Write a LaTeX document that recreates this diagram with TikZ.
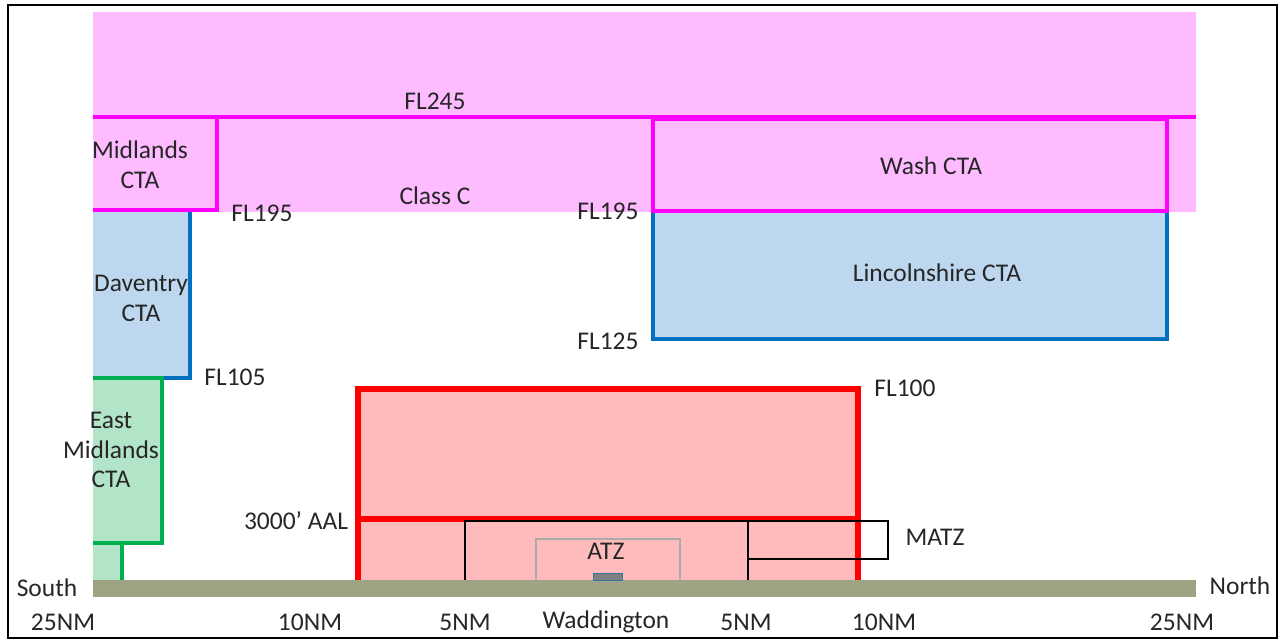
\documentclass[tikz,border=0pt]{standalone}
\usepackage{fontspec}
\setmainfont{Carlito}
\usepackage{tikz}
\usetikzlibrary{positioning}

\definecolor{ctapink}{RGB}{255,187,255}
\definecolor{ctamag}{RGB}{255,0,255}
\definecolor{ctablue}{RGB}{0,112,192}
\definecolor{ctablfill}{RGB}{189,215,238}
\definecolor{ctagreen}{RGB}{0,176,80}
\definecolor{ctagrfill}{RGB}{178,228,200}
\definecolor{matzred}{RGB}{255,0,0}
\definecolor{matzfill}{RGB}{255,187,187}
\definecolor{ground}{RGB}{157,163,131}
\definecolor{atzgrey}{RGB}{170,170,170}

\tikzset{
    lbl/.style={font=\fontsize{14.5}{17}\selectfont, text=black!85, inner sep=0pt, align=center},
    magline/.style={ctamag, line width=2.3pt},
    blueline/.style={ctablue, line width=2.3pt},
    greenline/.style={ctagreen, line width=2.3pt},
    redline/.style={matzred, line width=3.2pt},
}

\begin{document}
\begin{tikzpicture}[x=0.02cm, y=-0.02cm]
    \useasboundingbox (0,0) rectangle (1282,641);
    % frame
    \draw[black, line width=1.2pt] (8,5) rectangle (1277,638);

    % class C (pink) block
    \fill[ctapink] (93,12) rectangle (1196,212);

    % Lincolnshire CTA
    \fill[ctablfill] (653,211) rectangle (1167,339);
    \draw[blueline] (653,211) rectangle (1167,339);

    % Daventry CTA
    \fill[ctablfill] (93,211) rectangle (190,378);
    \draw[blueline] (190,211) -- (190,378) -- (93,378);

    % East Midlands CTA
    \fill[ctagrfill] (93,378) rectangle (162,543);
    \fill[ctagrfill] (93,543) rectangle (122,580);
    \draw[greenline] (93,378) -- (162,378) -- (162,543) -- (93,543);
    \draw[greenline] (122,543) -- (122,580);

    % FL245 line, Midlands CTA and Wash CTA
    \draw[magline] (93,117) -- (1196,117);
    \draw[magline] (93,210) -- (217,210) -- (217,117);
    \draw[magline] (653,119) rectangle (1167,211);

    % Waddington CTR
    \fill[matzfill] (358,389) rectangle (858,580);
    \draw[redline] (358,580) -- (358,389) -- (858,389) -- (858,580);
    \draw[redline] (358,519) -- (858,519);

    % MATZ
    \draw[black, line width=1.4pt] (465,580) -- (465,521) -- (888,521) -- (888,559) -- (748,559);
    \draw[black, line width=1.4pt] (748,521) -- (748,580);

    % ATZ
    \draw[atzgrey, line width=1.7pt] (536,580) -- (536,539) -- (680,539) -- (680,580);

    % ground and runway
    \fill[ground] (93,580) rectangle (1196,597);
    \draw[fill=gray, draw=ctablue!60!gray, line width=0.5pt] (593,573) rectangle (622,580);

    % labels
    \node[lbl] (fl245) at (435,101) {FL245};
    \node[lbl] (midl) at (140,165) {Midlands\\CTA};
    \node[lbl] (fl195a) at (262,213) {FL195};
    \node[lbl] (classc) at (435,196) {Class C};
    \node[lbl] (fl195b) at (608,211) {FL195};
    \node[lbl] (wash) at (931,166) {Wash CTA};
    \node[lbl] (linc) at (937,273) {Lincolnshire CTA};
    \node[lbl] (fl125) at (608,341) {FL125};
    \node[lbl] (dav) at (141,298) {Daventry\\CTA};
    \node[lbl] (fl105) at (235,377) {FL105};
    \node[lbl] (emid) at (111,450) {East\\Midlands\\CTA};
    \node[lbl] (fl100) at (905,388) {FL100};
    \node[lbl] (aal) at (296,521) {3000’ AAL};
    \node[lbl] (matz) at (935,537) {MATZ};
    \node[lbl] (atz) at (606,551) {ATZ};
    \node[lbl] (south) at (47,588) {South};
    \node[lbl] (north) at (1240,586) {North};

    % distance scale
    \foreach \x/\t [count=\i] in {63/25NM, 310/10NM, 465/5NM, 606/Waddington, 746/5NM, 884/10NM, 1182/25NM}{
        \node[lbl] (dist\i) at (\x,622) {\t};
    }
\end{tikzpicture}
\end{document}
